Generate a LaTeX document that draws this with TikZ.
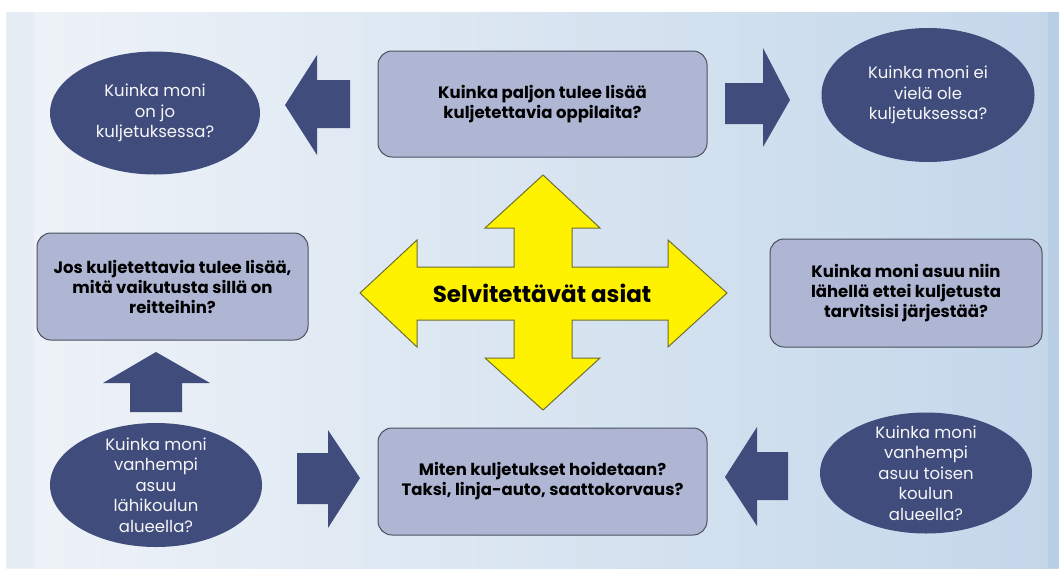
\documentclass[tikz,border=0pt]{standalone}
\usepackage{fontspec}
\setmainfont{Poppins}
\usetikzlibrary{shapes.geometric}

\definecolor{navy}{HTML}{404C7C}
\definecolor{boxfill}{HTML}{AEB6D4}
\definecolor{boxline}{HTML}{4B5060}
\definecolor{bgleft}{HTML}{EFF3F8}
\definecolor{bgright}{HTML}{C3D7EA}
\definecolor{bandleft}{HTML}{E3EAF3}
\definecolor{bandright}{HTML}{B3CBE4}
\definecolor{yline}{HTML}{6E6E30}

\begin{document}
\begin{tikzpicture}[x=1pt,y=-1pt,line width=.8pt,
  bubble/.style={ellipse,fill=navy,inner sep=0pt},
  bubbletext/.style={align=center,text=white!95!navy,inner sep=0pt,font=\fontsize{16.5}{20.5}\selectfont},
  qbox/.style={draw=boxline,fill=boxfill,rounded corners=14pt,line width=1pt,align=center,font=\bfseries\fontsize{16.5}{20}\selectfont},
  blockarrow/.style={fill=navy}]
\path[use as bounding box] (0,0) rectangle (1059,568);
% background
\fill[white] (0,0) rectangle (1059,568);
\shade[left color=bgleft,right color=bgright] (6,12) rectangle (1059,568);
\fill[bandleft,opacity=.6] (6,12) rectangle (34,568);
\fill[bandright,opacity=.7] (1048,12) rectangle (1059,568);
% questions
\node[qbox,minimum width=329,minimum height=106] (lisaa) at (542.5,104) {Kuinka paljon tulee lisää\\kuljetettavia oppilaita?};
\node[qbox,minimum width=271,minimum height=107] (reitit) at (172.5,286.5) {Jos kuljetettavia tulee lisää,\\mitä vaikutusta sillä on\\reitteihin?};
\node[qbox,minimum width=272,minimum height=108] (lahella) at (906,293) {Kuinka moni asuu niin\\lähellä ettei kuljetusta\\tarvitsisi järjestää?};
\node[qbox,minimum width=329,minimum height=107] (hoito) at (542.5,481.5) {Miten kuljetukset hoidetaan?\\Taksi, linja-auto, saattokorvaus?};
% ellipses
\node[bubble,minimum width=210,minimum height=123] (onjo) at (155,113) {};
\node[bubbletext] (onjo-t) at (onjo) {Kuinka moni\\on jo\\kuljetuksessa?};
\node[bubble,minimum width=213,minimum height=134] (eivie) at (928,95) {};
\node[bubbletext] (eivie-t) at (eivie) {Kuinka moni ei\\vielä ole\\kuljetuksessa?};
\node[bubble,minimum width=212,minimum height=124] (lahi) at (156,485) {};
\node[bubbletext] (lahi-t) at (lahi) {Kuinka moni\\vanhempi\\asuu\\lähikoulun\\alueella?};
\node[bubble,minimum width=212,minimum height=121] (toinen) at (926,473) {};
\node[bubbletext] (toinen-t) at (toinen) {Kuinka moni\\vanhempi\\asuu toisen\\koulun\\alueella?};
% block arrows
\fill[blockarrow] (285,105) -- (317,55) -- (317,80) -- (350,80) -- (350,128) -- (317,128) -- (317,155) -- cycle;
\fill[blockarrow] (790,100) -- (763,48) -- (763,83) -- (725,83) -- (725,124) -- (763,124) -- (763,147) -- cycle;
\fill[blockarrow] (156,352) -- (210,383) -- (182,383) -- (182,412) -- (130,412) -- (130,383) -- (103,383) -- cycle;
\fill[blockarrow] (360,478) -- (328,430) -- (328,453) -- (297,453) -- (297,504) -- (328,504) -- (328,528) -- cycle;
\fill[blockarrow] (725,477) -- (757,427) -- (757,452) -- (788,452) -- (788,500) -- (757,500) -- (757,526) -- cycle;
% centre cross
\draw[fill=yellow,draw=yline,line width=1pt,line join=miter]
  (543,175) -- (600,228) -- (572,228) -- (572,267) -- (668,267) -- (668,240) -- (727,293)
  -- (668,347) -- (668,320) -- (572,320) -- (572,358) -- (600,358) -- (543,410) -- (485,358)
  -- (514,358) -- (514,320) -- (417,320) -- (417,347) -- (360,293) -- (417,240) -- (417,267)
  -- (514,267) -- (514,228) -- (485,228) -- cycle;
\node[font=\bfseries\fontsize{23}{26}\selectfont,inner sep=0pt] (asiat) at (542,293) {Selvitettävät asiat};
\end{tikzpicture}
\end{document}
